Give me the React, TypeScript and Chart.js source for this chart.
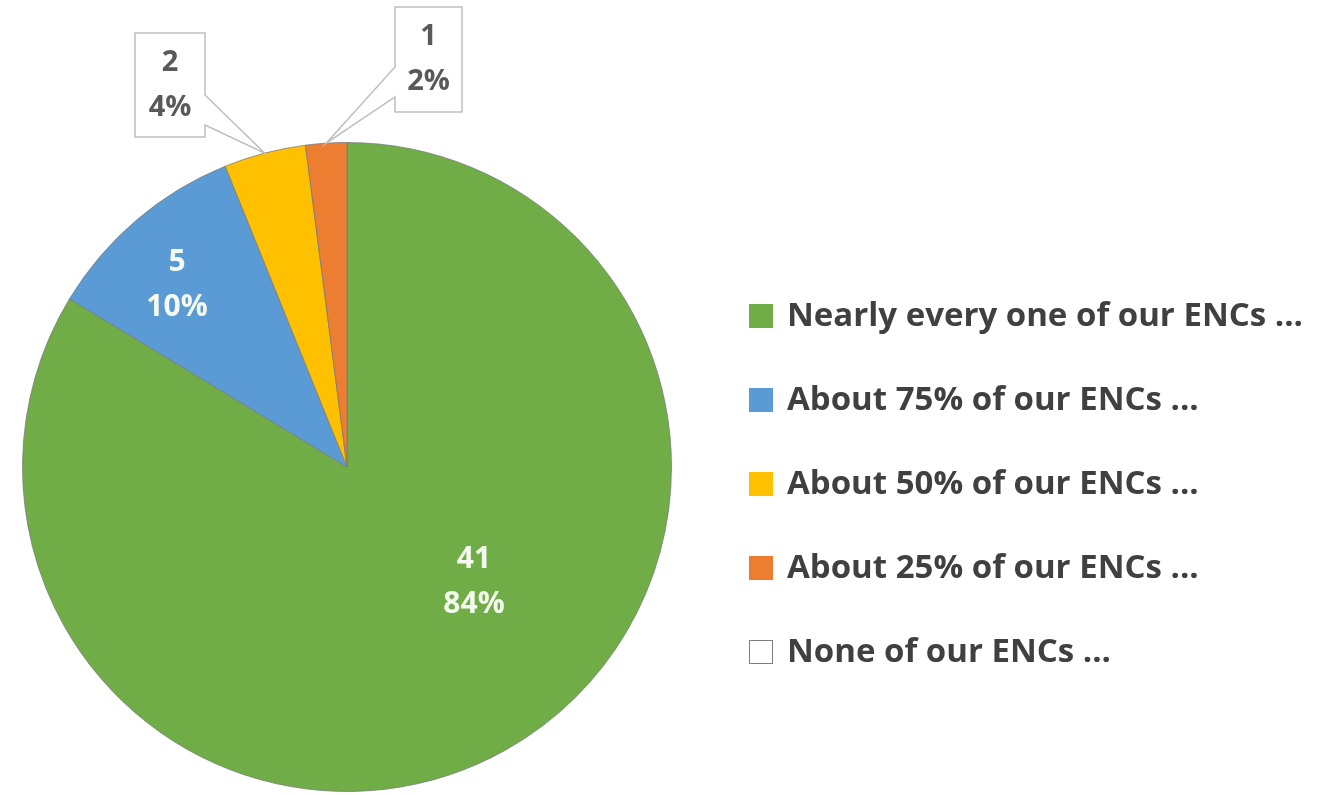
import React, { useEffect, useRef } from "react";
import { Chart, registerables } from "chart.js";

Chart.register(...registerables);

const categories: string[] = [
  "Nearly every one of our ENCs ...",
  "About 75% of our ENCs ...",
  "About 50% of our ENCs ...",
  "About 25% of our ENCs ...",
  "None of our ENCs ...",
];
const counts: number[] = [41, 5, 2, 1, 0];
const sliceColors: string[] = ["#70AD47", "#5B9BD5", "#FFC000", "#ED7D31", "#FFFFFF"];

const FONT = '"Open Sans", "DejaVu Sans", sans-serif';

// label placement styles (offsets relative to the pie centre)
const inside: Record<number, { dx: number; dy: number }> = {
  0: { dx: 127, dy: 115 },
  1: { dx: -170, dy: -182 },
};
const callouts: Record<number, { left: number; top: number; w: number; h: number; side: "right" | "left"; b1: number; b2: number }> = {
  2: { left: -212, top: -434, w: 70, h: 104, side: "right", b1: 62, b2: 92 },
  3: { left: 48, top: -460, w: 67, h: 105, side: "left", b1: 60, b2: 90 },
};

const labelPlugin = {
  id: "pieLabels",
  afterDatasetsDraw(chart: any) {
    const ctx: CanvasRenderingContext2D = chart.ctx;
    const meta = chart.getDatasetMeta(0);
    const data: number[] = chart.data.datasets[0].data;
    const total = data.reduce((a, b) => a + b, 0);
    ctx.save();
    ctx.textAlign = "center";
    ctx.textBaseline = "middle";
    meta.data.forEach((arc: any, i: number) => {
      const v = data[i];
      if (!v) return;
      const pct = Math.round((v / total) * 100) + "%";
      const cx = arc.x;
      const cy = arc.y;
      if (inside[i]) {
        const p = inside[i];
        ctx.fillStyle = "#F4FAEF";
        ctx.font = `bold 30px ${FONT}`;
        ctx.fillText(String(v), cx + p.dx, cy + p.dy - 22.5);
        ctx.fillText(pct, cx + p.dx, cy + p.dy + 22.5);
      } else if (callouts[i]) {
        const c = callouts[i];
        const mid = (arc.startAngle + arc.endAngle) / 2;
        const tx = cx + Math.cos(mid) * arc.outerRadius;
        const ty = cy + Math.sin(mid) * arc.outerRadius;
        const L = cx + c.left;
        const T = cy + c.top;
        const R = L + c.w;
        const B = T + c.h;
        ctx.beginPath();
        if (c.side === "right") {
          ctx.moveTo(L, T);
          ctx.lineTo(R, T);
          ctx.lineTo(R, T + c.b1);
          ctx.lineTo(tx, ty);
          ctx.lineTo(R, T + c.b2);
          ctx.lineTo(R, B);
          ctx.lineTo(L, B);
          ctx.closePath();
        } else {
          ctx.moveTo(L, T);
          ctx.lineTo(R, T);
          ctx.lineTo(R, B);
          ctx.lineTo(L, B);
          ctx.lineTo(L, T + c.b2);
          ctx.lineTo(tx, ty);
          ctx.lineTo(L, T + c.b1);
          ctx.closePath();
        }
        ctx.fillStyle = "#FFFFFF";
        ctx.fill();
        ctx.strokeStyle = "#BFBFBF";
        ctx.lineWidth = 1.5;
        ctx.stroke();
        ctx.fillStyle = "#595959";
        ctx.font = `bold 29px ${FONT}`;
        const mx = (L + R) / 2;
        const my = (T + B) / 2;
        ctx.fillText(String(v), mx, my - 22.5);
        ctx.fillText(pct, mx, my + 22.5);
      }
    });
    ctx.restore();
  },
};

const legendPlugin = {
  id: "sideLegend",
  afterDraw(chart: any) {
    const ctx: CanvasRenderingContext2D = chart.ctx;
    const labels: string[] = chart.data.labels;
    const colors: string[] = chart.data.datasets[0].backgroundColor;
    ctx.save();
    ctx.textAlign = "left";
    ctx.textBaseline = "middle";
    ctx.font = `bold 33px ${FONT}`;
    labels.forEach((lab, i) => {
      const y = 316 + i * 84;
      ctx.fillStyle = colors[i];
      ctx.fillRect(749, y - 12, 24, 24);
      if (colors[i].toUpperCase() === "#FFFFFF") {
        ctx.strokeStyle = "#7F7F7F";
        ctx.lineWidth = 1;
        ctx.strokeRect(749.5, y - 11.5, 23, 23);
      }
      ctx.fillStyle = "#404040";
      ctx.fillText(lab, 787, y + 1);
    });
    ctx.restore();
  },
};

export default function App() {
  const ref = useRef<HTMLCanvasElement | null>(null);
  useEffect(() => {
    if (!ref.current) return;
    const chart = new Chart(ref.current, {
      type: "pie",
      data: {
        labels: categories,
        datasets: [
          {
            data: counts,
            backgroundColor: sliceColors,
            borderColor: "rgba(120,120,120,0.75)",
            borderWidth: 1,
          },
        ],
      },
      options: {
        responsive: false,
        animation: false,
        devicePixelRatio: 1,
        layout: { padding: { left: 22, right: 661, top: 142, bottom: 3 } },
        plugins: {
          legend: { display: false },
          tooltip: { enabled: false },
          title: { display: false },
        },
      },
      plugins: [labelPlugin, legendPlugin],
    });
    return () => chart.destroy();
  }, []);
  return (
    <div style={{ position: "fixed", left: 0, top: 0, width: 1333, height: 795, background: "#fff" }}>
      <canvas ref={ref} width={1333} height={795} style={{ display: "block" }} />
    </div>
  );
}
